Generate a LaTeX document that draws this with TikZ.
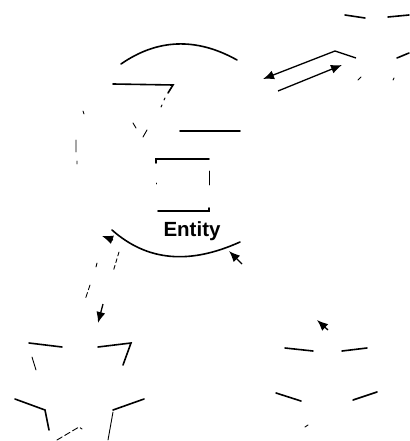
\documentclass[tikz,border=0pt]{standalone}
\usepackage{fontspec}
\setmainfont{Liberation Sans}
\usetikzlibrary{arrows.meta}

\begin{document}
\begin{tikzpicture}[
    x=1pt, y=-1pt,
    stroke/.style={line width=1.6pt, line cap=round},
    trace/.style={line width=0.9pt, line cap=round},
    link/.style={line width=1.3pt, -{Latex[length=11pt,width=9pt]}}
]
\useasboundingbox (0,0) rectangle (409,441);

% entity
\draw[stroke] (121,64) .. controls (157,39) and (196,37) .. (237,60);
\draw[stroke] (113,84) -- (173,85) -- (168,93);
\draw[trace] (165,98) -- (164,100) (162,105) -- (161,107);
\draw[trace] (133,123) -- (136,128) (147,130) -- (143,137);
\draw[stroke] (180,131) -- (240,131);
\draw[stroke] (156,163) -- (156,159) -- (209,159);
\draw[trace] (209,171) -- (209,185) (156,183) -- (156,184);
\draw[stroke] (158,211) -- (209,211) -- (209,208);
\node[anchor=base, inner sep=0pt, font=\fontsize{20.5}{24}\selectfont\bfseries] (entity) at (192,236) {Entity};
\draw[stroke] (112,230) .. controls (147,261) and (189,265) .. (240,242);
\draw[trace] (83,111) -- (84,114) (76,140) -- (76,152) (77,161) -- (77,164);

% connectors
\draw[link] (113,240) -- (102,236);
\draw[link] (242,264) -- (229,251);
\draw[trace, dash pattern=on 4pt off 3pt] (119,252) -- (113,272);
\draw[trace] (97,263) -- (96,267);
\draw[trace, dash pattern=on 5pt off 3pt] (90,285) -- (85,300);
\draw[link] (103,304) -- (98,323);
\draw[link] (356,58) -- (335,51) -- (263,79);
\draw[link] (278,91) -- (342,65);
\draw[link] (328,330) -- (317,320);

% top right
\draw[stroke] (345,15) -- (365,18);
\draw[stroke] (388,17) -- (409,15);
\draw[stroke] (397,58) -- (409,53);
\draw[trace] (358,80) -- (361,77) (393,80) -- (394,78);

% bottom left
\draw[stroke] (29,343) -- (62,347);
\draw[stroke] (98,347) -- (131,343) -- (123,365);
\draw[trace] (32,357) -- (36,370);
\draw[stroke] (15,399) -- (45,410) -- (49,430);
\draw[stroke] (144,399) -- (113,410);
\draw[trace] (113,412) -- (108,440);
\draw[trace, dash pattern=on 6pt off 3pt] (57,440) -- (79,427) -- (82,429);

% bottom right
\draw[stroke] (285,348) -- (313,351);
\draw[stroke] (342,351) -- (367,348);
\draw[stroke] (276,393) -- (301,401);
\draw[stroke] (353,400) -- (377,392);
\draw[trace] (305,427) -- (308,425);
\end{tikzpicture}
\end{document}
